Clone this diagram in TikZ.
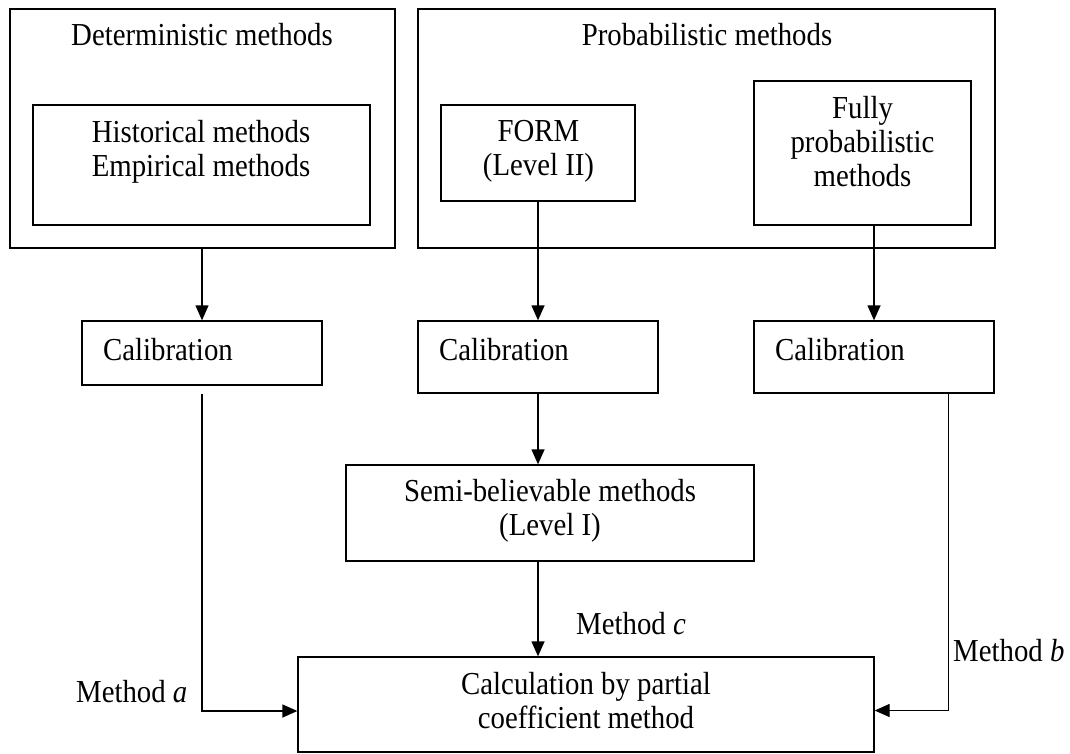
\documentclass[tikz,border=0pt]{standalone}
\usepackage{fontspec}
\setmainfont{Liberation Serif}[FakeStretch=0.9]
\usetikzlibrary{arrows.meta}
\begin{document}
\begin{tikzpicture}[x=1pt,y=-1pt,
  box/.style={draw, line width=1.3pt, inner sep=0pt},
  txt/.style={align=center, inner sep=0pt, font=\fontsize{32}{34}\selectfont},
  arr/.style={line width=1.3pt, -{Triangle[length=15pt,width=13pt]}}]
\useasboundingbox (0,0) rectangle (1070,754);
% boxes
\node[box, minimum width=385pt, minimum height=239pt] (det) at (202.5,128.5) {};
\node[box, minimum width=337pt, minimum height=120pt] (hist) at (201.5,165) {};
\node[box, minimum width=577pt, minimum height=239pt] (prob) at (706.5,128.5) {};
\node[box, minimum width=194pt, minimum height=96pt] (form) at (538,153) {};
\node[box, minimum width=217pt, minimum height=144pt] (fully) at (862.5,153) {};
\node[box, minimum width=240pt, minimum height=64pt] (c1) at (202,353) {};
\node[box, minimum width=240pt, minimum height=72pt] (c2) at (538,357) {};
\node[box, minimum width=240pt, minimum height=72pt] (c3) at (874,357) {};
\node[box, minimum width=408pt, minimum height=96pt] (semi) at (550,513) {};
\node[box, minimum width=576pt, minimum height=95pt] (calc) at (586,704.5) {};
% texts
\node[txt, anchor=base] (tdet) at (202,46) {Deterministic methods};
\node[txt] (thist) at (201,152) {Historical methods\\Empirical methods};
\node[txt, anchor=base] (tprob) at (707,46) {Probabilistic methods};
\node[txt] (tform) at (538.5,151) {FORM\\(Level II)};
\node[txt] (tfully) at (862.5,142) {Fully\\probabilistic\\methods};
\node[txt, anchor=base west] (tc1) at (103,360) {Calibration};
\node[txt, anchor=base west] (tc2) at (439,360) {Calibration};
\node[txt, anchor=base west] (tc3) at (775,360) {Calibration};
\node[txt] (tsemi) at (550,511) {Semi-believable methods\\(Level I)};
\node[txt] (tcalc) at (586,701) {Calculation by partial\\coefficient method};
\node[txt, anchor=base west] (ma) at (76,702) {Method \textit{a}};
\node[txt, anchor=base west] (mc) at (576,634) {Method \textit{c}};
\node[txt, anchor=base west] (mb) at (953,661) {Method \textit{b}};
% connectors
\draw[arr] (c1.north |- det.south) -- (c1.north);
\draw[arr] (c2.north |- form.south) -- (c2.north);
\draw[arr] (c3.north |- fully.south) -- (c3.north);
\draw[arr] (c2.south) -- (c2.south |- semi.north);
\draw[arr] (c2.south |- semi.south) -- (c2.south |- calc.north);
\coordinate (a1) at ([yshift=-8pt]c1.south);
\draw[arr] (a1) |- ([yshift=-6.5pt]calc.west);
\coordinate (b1) at ([xshift=-46pt]c3.south east);
\draw[arr] (b1) |- ([yshift=-6pt]calc.east);
\end{tikzpicture}
\end{document}
